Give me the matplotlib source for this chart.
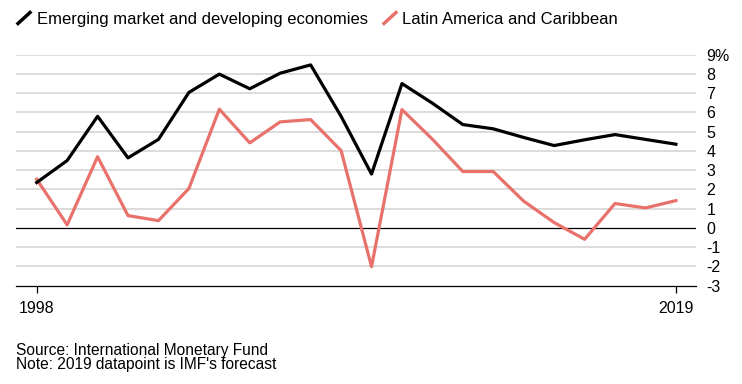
import numpy as np
import matplotlib.pyplot as plt
from matplotlib.lines import Line2D

years = list(range(1998, 2020))
emerging = [2.36, 3.5, 5.8, 3.64, 4.6, 7.04, 7.99, 7.23, 8.04, 8.47, 5.8,
            2.8, 7.5, 6.48, 5.37, 5.15, 4.7, 4.28, 4.58, 4.85, 4.6, 4.35]
latam = [2.53, 0.16, 3.7, 0.64, 0.38, 2.05, 6.17, 4.42, 5.51, 5.63, 4.02,
         -2.01, 6.15, 4.61, 2.93, 2.93, 1.39, 0.28, -0.59, 1.27, 1.04, 1.42]
yticks = list(range(-3, 10))
ytick_labels = [str(v) for v in yticks[:-1]] + ["9%"]
xticks = [1998, 2019]

red = "#e8726b"
plt.rcParams['font.family'] = ['Liberation Sans', 'DejaVu Sans']

fig = plt.figure(figsize=(7.42, 3.84), dpi=100)
ax = fig.add_axes([16/742, 1 - 285.7/384, 680/742, 231/384])

for v in yticks:
    if v == 0:
        ax.axhline(v, color="black", lw=0.9, zorder=1)
    elif v != -3:
        ax.axhline(v, color="#d9d9d9", lw=1.3, zorder=0)

ax.plot(years, emerging, color="black", lw=2.3, zorder=3)
ax.plot(years, latam, color=red, lw=2.3, zorder=2)

ax.set_xlim(1997.32, 2019.66)
ax.set_ylim(-3, 9)
for s in ["top", "left", "right"]:
    ax.spines[s].set_visible(False)
ax.spines["bottom"].set_linewidth(0.9)

ax.set_xticks(xticks)
ax.set_xticklabels([str(x) for x in xticks], fontsize=11.5)
ax.tick_params(axis="x", length=5, width=0.9, pad=6)

ax.yaxis.tick_right()
ax.set_yticks(yticks)
ax.set_yticklabels(ytick_labels, fontsize=11.5)
ax.tick_params(axis="y", length=0, pad=7.5)
for lbl in ax.get_yticklabels():
    lbl.set_horizontalalignment("left")

# legend
fig.add_artist(Line2D([18/742, 30/742], [1 - 23.5/384, 1 - 12.5/384], color="black", lw=2.5))
fig.text(37/742, 1 - 24/384, "Emerging market and developing economies", fontsize=12, va="baseline")
fig.add_artist(Line2D([384/742, 396/742], [1 - 23.5/384, 1 - 12.5/384], color=red, lw=2.5))
fig.text(402/742, 1 - 24/384, "Latin America and Caribbean", fontsize=12, va="baseline")

fig.text(16/742, 1 - 355/384, "Source: International Monetary Fund", fontsize=11.2, va="baseline")
fig.text(16/742, 1 - 369.5/384, "Note: 2019 datapoint is IMF's forecast", fontsize=11.2, va="baseline")

fig.savefig("out.png", dpi=100)
